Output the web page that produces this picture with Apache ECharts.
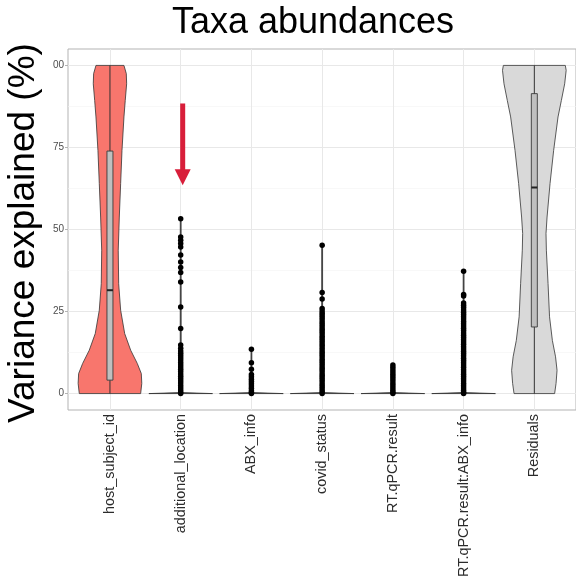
<!DOCTYPE html>
<html>
<head>
<meta charset="utf-8">
<script src="https://cdn.jsdelivr.net/npm/echarts@6/dist/echarts.min.js"></script>
<style>html,body{margin:0;padding:0;background:#fff;}#chart{width:576px;height:584px;}</style>
</head>
<body>
<div id="chart"></div>
<script>
// ---------------- data ----------------
const categories = ['host_subject_id','additional_location','ABX_info','covid_status','RT.qPCR.result','RT.qPCR.result:ABX_info','Residuals'];
const yTicks = [0, 25, 50, 75, 100];
const yMinorTicks = [12.5, 37.5, 62.5, 87.5];

// violin half-widths ([value, half width as fraction of category band])
const violinHost = [[0,0.434],[3.1,0.45],[6.1,0.443],[9.2,0.386],[13.2,0.293],[18.3,0.208],[25.4,0.151],[33.5,0.123],[43.7,0.117],[53.8,0.132],[64,0.151],[74.1,0.17],[84.3,0.198],[89.3,0.216],[94.4,0.236],[97.5,0.231],[100,0.198]];
const violinAddLoc = [[0,0.45],[0.3,0.015],[2,0.007],[53.3,0.006]];
const violinABX = [[0,0.45],[0.3,0.015],[2,0.007],[13.5,0.006]];
const violinCovid = [[0,0.45],[0.3,0.015],[2,0.007],[45.2,0.006]];
const violinRT = [[0,0.45],[0.3,0.015],[2,0.007],[8.7,0.006]];
const violinRTABX = [[0,0.45],[0.3,0.015],[2,0.007],[37.3,0.006]];
const violinResiduals = [[0,0.287],[3.1,0.307],[7.1,0.321],[11.2,0.3],[16.2,0.255],[23.4,0.215],[33.5,0.194],[43.7,0.17],[48.8,0.165],[53.8,0.18],[64,0.222],[74.1,0.273],[84.3,0.335],[89.3,0.382],[94.4,0.429],[98.5,0.45],[100,0.438]];

// boxplot stats [min, Q1, median, Q3, max]
const boxHost = [0, 4.1, 31.5, 73.9, 100];
const boxResiduals = [0, 20.3, 62.8, 91.4, 100];

// individual points (variance explained, %)
const ptsAddLoc = [53.3,47.7,46.7,45.7,44.7,42.2,40.1,38.4,36.9,34.0,26.4,19.8,14.8,13.8,13.0,12.3,11.6,10.9,10.2,9.5,8.8,8.1,7.4,6.7,6.0,5.3,4.6,3.9,3.2,2.5,1.8,1.1,0.5,0.0];
const ptsABX = [13.5,9.4,7.4,5.8,5.1,4.4,3.7,3.0,2.3,1.6,0.9,0.3,0.0];
const ptsCovid = [45.2,30.8,28.8,25.9,25.2,24.5,23.8,23.1,22.4,21.7,21.0,20.3,19.6,18.9,18.2,17.5,16.8,16.1,15.4,14.7,14.0,13.3,12.6,11.9,11.2,10.5,9.8,9.1,8.4,7.7,7.0,6.3,5.6,4.9,4.2,3.5,2.8,2.1,1.4,0.7,0.0];
const ptsRT = [8.7,8.0,7.3,6.6,5.9,5.2,4.5,3.8,3.1,2.4,1.7,1.0,0.4,0.0];
const ptsRTABX = [37.3,30.2,29.7,27.6,26.9,26.2,25.5,24.8,24.1,23.4,22.7,22.0,21.3,20.6,19.9,19.2,18.5,17.8,17.1,16.4,15.7,15.0,14.3,13.6,12.9,12.2,11.5,10.8,10.1,9.4,8.7,8.0,7.3,6.6,5.9,5.2,4.5,3.8,3.1,2.4,1.7,1.0,0.4,0.0];

// arrow annotation (from value, to value) at additional_location
const arrowFrom = 88.4;
const arrowTo = 63.5;

// ---------------- build ----------------
const violinProfiles = [violinHost, violinAddLoc, violinABX, violinCovid, violinRT, violinRTABX, violinResiduals];
const violinFills = ['#F8766D', '#4d4d4d', '#4d4d4d', '#4d4d4d', '#4d4d4d', '#4d4d4d', '#d9d9d9'];
const violinData = violinProfiles.map((p, i) => [i, p[p.length - 1][0]]);
const boxData = [[0].concat(boxHost), [6].concat(boxResiduals)];
const pointSets = [null, ptsAddLoc, ptsABX, ptsCovid, ptsRT, ptsRTABX, null];
const pointData = [];
pointSets.forEach((arr, i) => { if (arr) arr.forEach(v => pointData.push([i, v])); });

const FONT = '"Liberation Sans", Arial, Helvetica, sans-serif';
const TOP = 49, BOTTOM = 174;

const chart = echarts.init(document.getElementById('chart'), null, {renderer: 'canvas'});
chart.setOption({
  animation: false,
  backgroundColor: '#ffffff',
  textStyle: {fontFamily: FONT},
  title: {
    text: 'Taxa abundances',
    left: 308, top: 0, textAlign: 'center',
    textStyle: {fontSize: 36, fontWeight: 'normal', color: '#000', fontFamily: FONT}
  },
  grid: [
    {left: 68, right: 0, top: TOP, bottom: BOTTOM, show: true, borderColor: '#b3b3b3', borderWidth: 1, backgroundColor: 'transparent', containLabel: false, outerBoundsMode: 'none'},
    {left: 74.6, right: 6.3, top: TOP, bottom: BOTTOM, show: false, containLabel: false, outerBoundsMode: 'none'}
  ],
  xAxis: [
    {gridIndex: 0, type: 'value', min: 0, max: 1, show: false},
    {
      gridIndex: 1, type: 'category', data: categories,
      axisLine: {show: false},
      axisTick: {show: true, alignWithLabel: true, length: 3, lineStyle: {color: '#b3b3b3'}},
      axisLabel: {rotate: 90, interval: 0, fontSize: 14.4, color: '#2b2b2b', margin: 4, fontFamily: FONT},
      splitLine: {show: false}
    }
  ],
  yAxis: [
    {
      gridIndex: 0, type: 'value', min: -5, max: 105,
      name: 'Variance explained (%)', nameLocation: 'middle', nameRotate: 90, nameGap: 24,
      nameTextStyle: {fontSize: 37, color: '#000', fontFamily: FONT, padding: [0, 7, 0, 0]},
      axisLine: {show: false},
      axisTick: {show: true, length: 3, customValues: yTicks, lineStyle: {color: '#b3b3b3'}},
      axisLabel: {customValues: yTicks, fontSize: 10, color: '#4d4d4d', margin: 4, fontFamily: FONT,
        formatter: v => (v === 100 ? '00' : String(v))},
      splitLine: {show: false}
    },
    {gridIndex: 1, type: 'value', min: -5, max: 105, show: false, splitLine: {show: false}}
  ],
  series: [
    { // horizontal grid lines (full panel)
      type: 'scatter', xAxisIndex: 0, yAxisIndex: 0, data: [], z: 1, silent: true,
      markLine: {
        z: 1, silent: true, symbol: ['none', 'none'], label: {show: false}, animation: false,
        data: [].concat(
          yMinorTicks.map(v => ({yAxis: v, lineStyle: {color: '#f3f3f3', width: 0.6, type: 'solid'}})),
          yTicks.map(v => ({yAxis: v, lineStyle: {color: '#e8e8e8', width: 1, type: 'solid'}}))
        )
      }
    },
    { // vertical grid lines at categories
      type: 'scatter', xAxisIndex: 1, yAxisIndex: 1, data: [], z: 1, silent: true,
      markLine: {
        z: 1, silent: true, symbol: ['none', 'none'], label: {show: false}, animation: false,
        data: categories.map(c => ({xAxis: c, lineStyle: {color: '#e8e8e8', width: 1, type: 'solid'}}))
      }
    },
    { // violins
      type: 'custom', xAxisIndex: 1, yAxisIndex: 1, z: 2, silent: true, clip: false,
      data: violinData,
      encode: {x: 0, y: 1},
      renderItem: function (params, api) {
        const i = params.dataIndex;
        const prof = violinProfiles[i];
        const band = api.size([1, 0])[0];
        const left = [], right = [];
        prof.forEach(function (d) {
          const c = api.coord([i, d[0]]);
          left.push([c[0] - d[1] * band, c[1]]);
          right.push([c[0] + d[1] * band, c[1]]);
        });
        const pts = left.concat(right.reverse());
        return {type: 'polygon', shape: {points: pts},
          style: {fill: violinFills[i], stroke: '#333333', lineWidth: 0.8}};
      }
    },
    { // boxplots
      type: 'custom', xAxisIndex: 1, yAxisIndex: 1, z: 3, silent: true, clip: false,
      data: boxData,
      encode: {x: 0, y: [1, 2, 3, 4, 5]},
      renderItem: function (params, api) {
        const x = api.value(0);
        const pMin = api.coord([x, api.value(1)]);
        const pQ1 = api.coord([x, api.value(2)]);
        const pMed = api.coord([x, api.value(3)]);
        const pQ3 = api.coord([x, api.value(4)]);
        const pMax = api.coord([x, api.value(5)]);
        const hw = 3;
        return {type: 'group', children: [
          {type: 'line', shape: {x1: pMin[0], y1: pMin[1], x2: pMax[0], y2: pMax[1]}, style: {stroke: '#333', lineWidth: 1}},
          {type: 'rect', shape: {x: pQ3[0] - hw, y: pQ3[1], width: hw * 2, height: pQ1[1] - pQ3[1]}, style: {fill: '#bfbfbf', stroke: '#3a3a3a', lineWidth: 0.9}},
          {type: 'line', shape: {x1: pMed[0] - hw, y1: pMed[1], x2: pMed[0] + hw, y2: pMed[1]}, style: {stroke: '#222', lineWidth: 2}}
        ]};
      }
    },
    { // points
      type: 'scatter', xAxisIndex: 1, yAxisIndex: 1, z: 4, silent: true,
      data: pointData, symbol: 'circle', symbolSize: 5.5,
      itemStyle: {color: '#000', opacity: 1}
    },
    { // arrow annotation
      type: 'custom', xAxisIndex: 1, yAxisIndex: 1, z: 5, silent: true, clip: false,
      data: [[1, arrowFrom, arrowTo]],
      encode: {x: 0, y: [1, 2]},
      renderItem: function (params, api) {
        const x = api.value(0);
        const a = api.coord([x, api.value(1)]);
        const b = api.coord([x, api.value(2)]);
        const cx = a[0] + 2;
        const headH = 16, headW = 8, shaftW = 2.5;
        return {type: 'group', children: [
          {type: 'rect', shape: {x: cx - shaftW, y: a[1], width: shaftW * 2, height: (b[1] - headH) - a[1] + 1}, style: {fill: '#D81E3A'}},
          {type: 'polygon', shape: {points: [[cx - headW, b[1] - headH], [cx + headW, b[1] - headH], [cx, b[1]]]}, style: {fill: '#D81E3A'}}
        ]};
      }
    }
  ]
});
</script>
</body>
</html>
